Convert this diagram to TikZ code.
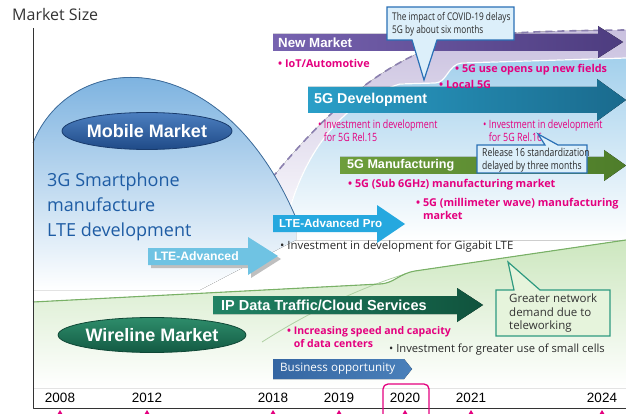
\documentclass[tikz,border=0pt]{standalone}
\usepackage{fontspec}
\setmainfont{Open Sans}
\newfontfamily\labelfont{Liberation Sans}
\newfontfamily\narrowfont[FakeStretch=0.78]{Open Sans}
\usetikzlibrary{shapes.geometric}

\definecolor{axisgray}{HTML}{333333}
\definecolor{notegray}{HTML}{2B2B2B}
\definecolor{hotpink}{HTML}{E4007F}
\definecolor{textblue}{HTML}{1E5CA4}
\definecolor{domeblue}{HTML}{67A6DB}
\definecolor{domemid}{HTML}{C2DCF1}
\definecolor{domeedge}{HTML}{3F6E9E}
\definecolor{lavender}{HTML}{C9C0DF}
\definecolor{dashpurple}{HTML}{8A7FAE}
\definecolor{skyfill}{HTML}{A3D0EC}
\definecolor{wirefill}{HTML}{CDE7BF}
\definecolor{wireedge}{HTML}{79B166}
\definecolor{purpleL}{HTML}{7763B0}
\definecolor{purpleR}{HTML}{4D3C7F}
\definecolor{tealL}{HTML}{2A9FC8}
\definecolor{tealR}{HTML}{1A6A8D}
\definecolor{oliveL}{HTML}{6E9E3C}
\definecolor{oliveR}{HTML}{4E7D2A}
\definecolor{ltepro}{HTML}{25A8DF}
\definecolor{lteblue}{HTML}{6FC3E3}
\definecolor{ipL}{HTML}{218364}
\definecolor{ipR}{HTML}{10533D}
\definecolor{bizL}{HTML}{3566A2}
\definecolor{bizR}{HTML}{4A80BA}
\definecolor{calloutfill}{HTML}{DCEFFA}
\definecolor{calloutedge}{HTML}{2A70B6}
\definecolor{greenfill}{HTML}{E6F4DC}
\definecolor{greenedge}{HTML}{2E9A80}
\definecolor{mobileL}{HTML}{4C7FC0}
\definecolor{mobileD}{HTML}{1F4A87}
\definecolor{wireL}{HTML}{2E8D6B}
\definecolor{wireD}{HTML}{135A43}

\begin{document}
\begin{tikzpicture}[x=1pt,y=-1pt,line join=bevel,
  lbl/.style={font=\labelfont\bfseries\fontsize{#1}{#1}\selectfont,text=white,anchor=west,inner sep=0pt},
  pinktext/.style={font=\bfseries\fontsize{10.8}{13}\selectfont,text=hotpink,anchor=west,inner sep=0pt,align=left},
  pinknarrow/.style={font=\narrowfont\fontsize{11.4}{13}\selectfont,text=hotpink,anchor=west,inner sep=0pt,align=left},
  note/.style={font=\fontsize{11.4}{13}\selectfont,text=notegray,anchor=west,inner sep=0pt,align=left},
  callnote/.style={font=\narrowfont\fontsize{#1}{13.5}\selectfont,text=notegray,anchor=west,inner sep=0pt,align=left},
  year/.style={font=\labelfont\fontsize{13.5}{14}\selectfont,text=black,inner sep=0pt},
  tick/.style={fill=hotpink},
  callout/.style={fill=calloutfill,draw=calloutedge,line width=1.2pt,line join=miter},
  greencall/.style={fill=greenfill,draw=greenedge,line width=1.2pt,line join=miter},
  ]
\useasboundingbox (0,0) rectangle (626,414);
%%
% lavender band and light blue 5G area
\fill[top color=lavender,bottom color=white] (272,178) .. controls (320,120) and (370,70) .. (440,44) .. controls (470,34) and (520,31) .. (626,30) -- (626,240) -- (296,240) -- cycle;
\fill[top color=skyfill,bottom color=white] (288,215) .. controls (300,170) and (330,105) .. (400,84) -- (435,83) .. controls (447,83) and (448,64) .. (462,63) -- (626,58) -- (626,240) -- (296,240) -- cycle;
\draw[white,line width=1.2pt] (288,215) .. controls (300,170) and (330,105) .. (400,84) -- (435,83) .. controls (447,83) and (448,64) .. (462,63) -- (626,58);
\draw[dashpurple,line width=1.6pt,dash pattern=on 7pt off 5pt] (272,178) .. controls (320,120) and (370,70) .. (440,44) .. controls (470,34) and (520,31) .. (626,30);
% mobile dome
\fill[top color=domeblue,middle color=domemid,bottom color=white] (33,143) .. controls (70,50) and (220,40) .. (296,218) -- (296,240) -- (200,290) -- (33,290) -- cycle;
\draw[domeedge,line width=0.8pt] (33,143) .. controls (70,50) and (220,40) .. (296,218);
% wireline area
\fill[top color=wirefill,bottom color=white] (33,302) -- (380,284) .. controls (395,283) and (398,274) .. (415,271) -- (626,240) -- (626,388) -- (33,388) -- cycle;
\draw[wireedge!60,line width=0.8pt] (262,342) .. controls (320,305) and (370,285) .. (405,274);
\draw[wireedge,line width=1.1pt] (33,302) -- (380,284) .. controls (395,283) and (398,274) .. (415,271) -- (626,240);
% axes
\draw[axisgray,line width=0.9pt] (33,28) -- (33,408) -- (626,408);
\node (msize) at (12,15) [anchor=west,inner sep=0pt,font=\fontsize{16}{16}\selectfont,text=axisgray] {Market Size};

% market ellipses
\node (mobile) at (147,131) [ellipse,inner sep=0pt,minimum width=170pt,minimum height=37pt,top color=mobileL,bottom color=mobileD,draw=mobileD!80!black,line width=0.8pt,font=\labelfont\bfseries\fontsize{18}{18}\selectfont,text=white] {Mobile Market};
\node (wire) at (152,335) [ellipse,inner sep=0pt,minimum width=185pt,minimum height=35pt,top color=wireL,bottom color=wireD,draw=wireD!80!black,line width=0.8pt,font=\labelfont\bfseries\fontsize{18}{18}\selectfont,text=white] {Wireline Market};
\node (gen3) at (47,207) [anchor=west,inner sep=0pt,align=left,font=\fontsize{18}{25}\selectfont,text=textblue] {3G Smartphone\\manufacture\\LTE development};

% big arrows
\fill[left color=purpleL,right color=purpleR] (273,34) -- (598,34) -- (598,26) -- (623,42) -- (598,58) -- (598,51) -- (273,51) -- cycle;
\node (newmkt) at (278,42.5) [lbl=13.3] {New Market};
\fill[left color=tealL,right color=tealR] (308,87) -- (597,87) -- (597,79) -- (626,100) -- (597,121) -- (597,113) -- (308,113) -- cycle;
\node (dev5g) at (314,100) [lbl=14.3] {5G Development};
\fill[left color=oliveL,right color=oliveR] (340,157) -- (604,157) -- (604,150) -- (626,165.5) -- (604,181) -- (604,174) -- (340,174) -- cycle;
\node (mfg5g) at (347,165.5) [lbl=12.6] {5G Manufacturing};
\fill[ltepro] (273,215) -- (377,215) -- (377,205) -- (405,224) -- (377,243) -- (377,232) -- (273,232) -- cycle;
\node (ltepro) at (279,223.5) [lbl=11.6] {LTE-Advanced Pro};
\fill[black!25] (151,251) -- (251,251) -- (251,240) -- (281,259) -- (251,278) -- (251,268) -- (151,268) -- cycle;
\fill[lteblue] (148,248) -- (248,248) -- (248,237) -- (278,256) -- (248,275) -- (248,265) -- (148,265) -- cycle;
\node (lteadv) at (154,256.5) [lbl=12.2] {LTE-Advanced};
\fill[left color=ipL,right color=ipR] (213,296) -- (457,296) -- (457,288) -- (483,305) -- (457,322) -- (457,314) -- (213,314) -- cycle;
\node (ipdata) at (221,305) [lbl=14.5] {IP Data Traffic/Cloud Services};
\fill[left color=bizL,right color=bizR] (273,359) -- (404,359) -- (412,369) -- (404,379) -- (273,379) -- cycle;
\node (biz) at (280,369) [anchor=west,inner sep=0pt,font=\fontsize{11.6}{11.6}\selectfont,text=white] {Business opportunity};

% bullet texts
\node (iot) at (278,63) [pinktext] {\textbullet\ IoT/Automotive};
\node (newfields) at (455,70) [pinktext] {\textbullet\ 5G use opens up new fields};
\node (local) at (439,84) [pinktext] {\textbullet\ Local 5G};
\node (rel15) at (318,130.5) [pinknarrow] {\textbullet\ Investment in development\\\phantom{\textbullet\ }for 5G Rel.15};
\node (rel16) at (483,130.5) [pinknarrow] {\textbullet\ Investment in development\\\phantom{\textbullet\ }for 5G Rel.16};
\node (sub6) at (348,185) [pinktext] {\textbullet\ 5G (Sub 6GHz) manufacturing market};
\node (mmwave) at (416,208.5) [pinktext] {\textbullet\ 5G (millimeter wave) manufacturing\\\phantom{\textbullet\ }market};
\node (gigabit) at (280,247) [note] {\textbullet\ Investment in development for Gigabit LTE};
\node (dcenter) at (287,337) [pinktext,font=\bfseries\fontsize{10.5}{13}\selectfont] {\textbullet\ Increasing speed and capacity\\\phantom{\textbullet\ }of data centers};
\node (smallcell) at (389,350) [note,font=\fontsize{11.2}{13}\selectfont] {\textbullet\ Investment for greater use of small cells};

% callouts
\draw[callout] (387,7) -- (514,7) -- (514,40) -- (437,40) -- (424,80) -- (412,40) -- (387,40) -- cycle;
\node (covid) at (392,24) [callnote=10.6] {The impact of COVID-19 delays\\5G by about six months};
\draw[callout] (477,145) -- (545,145) -- (538,134) -- (558,145) -- (587,145) -- (587,173) -- (477,173) -- cycle;
\node (rel16late) at (482,160) [callnote=11] {Release 16 standardization\\delayed by three months};
\draw[greencall] (496,290) -- (514,290) -- (508,262) -- (540,290) -- (610,290) -- (610,336) -- (496,336) -- cycle;
\node (telework) at (509,313.5) [note,font=\fontsize{11.5}{13.5}\selectfont,text=axisgray] {Greater network\\demand due to\\teleworking};

% years along the time axis
\draw[hotpink,line width=1.3pt,rounded corners=5pt] (383,384) rectangle (429,422);
\node (y2008) at (60,398) [year] {2008};
\node (y2012) at (147,398) [year] {2012};
\node (y2018) at (273,398) [year] {2018};
\node (y2019) at (339,398) [year] {2019};
\node (y2020) at (405,398) [year] {2020};
\node (y2021) at (471,398) [year] {2021};
\node (y2024) at (602,398) [year] {2024};
\fill[tick] (57,415) -- (60,410) -- (63,415) -- cycle;
\fill[tick] (144,415) -- (147,410) -- (150,415) -- cycle;
\fill[tick] (270,415) -- (273,410) -- (276,415) -- cycle;
\fill[tick] (336,415) -- (339,410) -- (342,415) -- cycle;
\fill[tick] (402,415) -- (405,410) -- (408,415) -- cycle;
\fill[tick] (468,415) -- (471,410) -- (474,415) -- cycle;
\fill[tick] (599,415) -- (602,410) -- (605,415) -- cycle;
%
\end{tikzpicture}
\end{document}
